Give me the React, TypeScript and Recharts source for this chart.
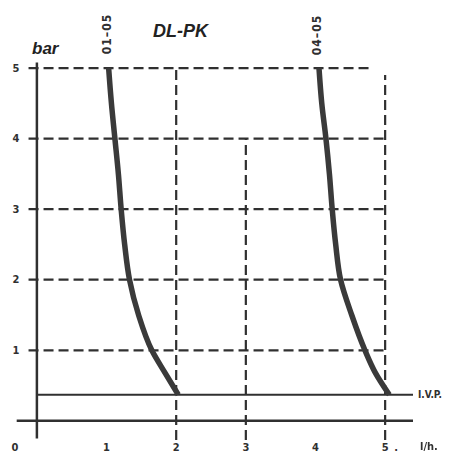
import React from 'react';
import { ComposedChart, Line, XAxis, YAxis, ReferenceLine } from 'recharts';

// x ticks (l/h) and y ticks (bar)
const xTicks = [0, 1, 2, 3, 4, 5];
const yTicks = [1, 2, 3, 4, 5];

// curve "01-05"
const flow0105 = [1.03, 1.07, 1.12, 1.17, 1.21, 1.26, 1.33, 1.46, 1.65, 1.84, 2.03];
const bar0105 = [5, 4.5, 4, 3.5, 3, 2.5, 2, 1.5, 1, 0.68, 0.37];

// curve "04-05"
const flow0405 = [4.05, 4.09, 4.15, 4.2, 4.24, 4.29, 4.36, 4.52, 4.71, 4.86, 5.06];
const bar0405 = [5, 4.5, 4, 3.5, 3, 2.5, 2, 1.5, 1, 0.68, 0.37];

const ivpLevel = 0.37;

const curveA = flow0105.map((x, i) => ({ x, y: bar0105[i] }));
const curveB = flow0405.map((x, i) => ({ x, y: bar0405[i] }));

const INK = '#303030';
const FONT = '"Liberation Sans Narrow", "DejaVu Sans Condensed", "Liberation Sans", Arial, sans-serif';

const XTick = (props: any) => {
  const { x, y, payload } = props;
  const v = payload.value;
  const dx = v === 0 ? -22 : 0;
  return (
    <g>
      <text x={x + dx} y={y + 5} textAnchor="middle" dominantBaseline="central" fontFamily={FONT} fontWeight="bold" fontSize={11} fill={INK}>
        {v}
      </text>
      {v === 5 && (
        <text x={x + 11} y={y + 5} textAnchor="middle" dominantBaseline="central" fontFamily={FONT} fontWeight="bold" fontSize={11} fill={INK}>
          .
        </text>
      )}
    </g>
  );
};

const YTick = (props: any) => {
  const { x, y, payload } = props;
  return (
    <text x={x} y={y} textAnchor="middle" dominantBaseline="central" fontFamily={FONT} fontWeight="bold" fontSize={11} fill={INK}>
      {payload.value}
    </text>
  );
};

const dash = { stroke: INK, strokeWidth: 2.2, strokeDasharray: '10 5' };

export default function App() {
  return (
    <div style={{ position: 'fixed', left: 0, top: 0, width: 454, height: 452, background: '#fff' }}>
      <ComposedChart width={454} height={452} margin={{ top: 61, right: 41, left: 0, bottom: 0 }}>
        <XAxis
          type="number"
          dataKey="x"
          domain={[-0.3, 5.4]}
          ticks={xTicks}
          height={10}
          axisLine={false}
          tickLine={false}
          tickSize={0}
          tickMargin={0}
          tick={<XTick />}
          allowDataOverflow
        />
        <YAxis
          type="number"
          dataKey="y"
          domain={[-0.3, 5.1]}
          ticks={yTicks}
          width={16}
          axisLine={false}
          tickLine={false}
          tickSize={0}
          tickMargin={0}
          tick={<YTick />}
          allowDataOverflow
        />

        {/* dashed grid */}
        {yTicks.map((v) => (
          <ReferenceLine
            key={'h' + v}
            segment={[{ x: -0.12, y: v }, { x: v === 5 ? 4.82 : 5.04, y: v }]}
            {...dash}
          />
        ))}
        <ReferenceLine segment={[{ x: 1, y: -0.27 }, { x: 1, y: 5.16 }]} {...dash} />
        <ReferenceLine segment={[{ x: 2, y: -0.27 }, { x: 2, y: 5 }]} {...dash} />
        <ReferenceLine segment={[{ x: 3, y: -0.27 }, { x: 3, y: 4 }]} {...dash} />
        <ReferenceLine segment={[{ x: 4, y: -0.27 }, { x: 4, y: 5.16 }]} {...dash} />
        <ReferenceLine segment={[{ x: 5, y: -0.27 }, { x: 5, y: 4.9 }]} {...dash} />

        {/* solid axes */}
        <ReferenceLine segment={[{ x: 0, y: -0.25 }, { x: 0, y: 5.08 }]} stroke={INK} strokeWidth={2.5} />
        <ReferenceLine segment={[{ x: -0.29, y: 0 }, { x: 5.4, y: 0 }]} stroke={INK} strokeWidth={2.5} />
        <ReferenceLine
          segment={[{ x: 0, y: ivpLevel }, { x: 5.4, y: ivpLevel }]}
          stroke={INK}
          strokeWidth={2}
          label={{ value: 'I.V.P.', position: 'right', offset: 5, fill: INK, fontSize: 10, fontWeight: 'bold', fontFamily: FONT }}
        />

        <Line data={curveA} dataKey="y" type="monotoneY" stroke="#3a3a3a" strokeWidth={5.5} dot={false} isAnimationActive={false} />
        <Line data={curveB} dataKey="y" type="monotoneY" stroke="#3a3a3a" strokeWidth={5.5} dot={false} isAnimationActive={false} />
      </ComposedChart>

      <div style={{ position: 'absolute', left: 32, top: 40, fontFamily: '"Liberation Sans", Arial, sans-serif', fontWeight: 'bold', fontStyle: 'italic', fontSize: 17, color: '#222', lineHeight: 1 }}>
        bar
      </div>
      <div style={{ position: 'absolute', left: 153, top: 22, fontFamily: '"Liberation Sans", Arial, sans-serif', fontWeight: 'bold', fontStyle: 'italic', fontSize: 18, color: '#222', lineHeight: 1 }}>
        DL-PK
      </div>
      <div style={{ position: 'absolute', left: 107, top: 34, transform: 'translate(-50%, -50%) rotate(-90deg)', fontFamily: FONT, fontWeight: 'bold', fontSize: 12, color: INK, lineHeight: 1, whiteSpace: 'nowrap', letterSpacing: 1 }}>
        01–05
      </div>
      <div style={{ position: 'absolute', left: 317, top: 35, transform: 'translate(-50%, -50%) rotate(-90deg)', fontFamily: FONT, fontWeight: 'bold', fontSize: 12, color: INK, lineHeight: 1, whiteSpace: 'nowrap', letterSpacing: 1 }}>
        04–05
      </div>
      <div style={{ position: 'absolute', left: 420, top: 441, fontFamily: FONT, fontWeight: 'bold', fontSize: 11, color: INK, lineHeight: 1 }}>
        l/h.
      </div>
    </div>
  );
}
